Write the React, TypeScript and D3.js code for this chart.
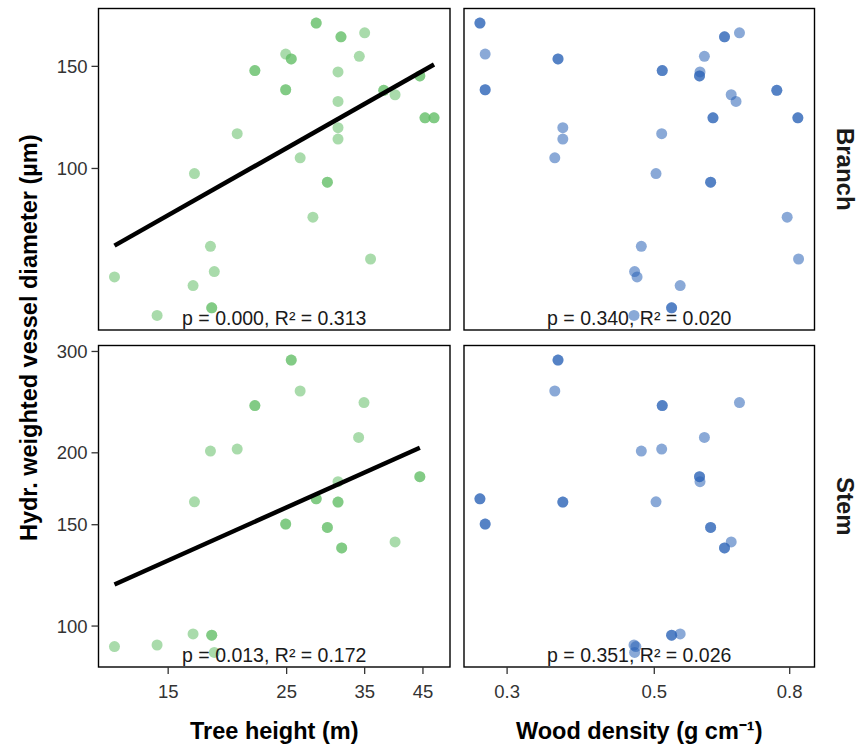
import React from "react";
import * as d3 from "d3";

// ---- data ----
const branchHeight = [28.4, 31.6, 35.0, 24.9, 25.5, 34.2, 21.8, 31.2, 44.4, 24.9, 38.0, 39.9, 31.2, 45.4, 47.2, 20.2, 31.2, 31.2, 26.5, 16.8, 29.8, 28.0, 18.0, 35.9, 11.9, 18.3, 16.7, 18.1, 14.3];
const branchDensity = [0.273, 0.638, 0.672, 0.278, 0.358, 0.595, 0.514, 0.586, 0.585, 0.278, 0.765, 0.653, 0.664, 0.613, 0.823, 0.513, 0.364, 0.364, 0.354, 0.503, 0.608, 0.793, 0.478, 0.825, 0.471, 0.467, 0.547, 0.531, 0.466];
const branchDiameter = [178.1, 168.7, 171.4, 157.5, 154.5, 156.1, 147.5, 146.7, 144.4, 136.7, 136.4, 134.0, 130.5, 122.3, 122.3, 114.8, 117.6, 112.4, 104.3, 98.0, 94.7, 82.4, 73.4, 69.8, 65.0, 66.4, 62.8, 57.5, 55.8];
const branchCount = [2, 2, 1, 1, 2, 1, 2, 1, 2, 2, 2, 1, 1, 2, 2, 1, 1, 1, 1, 1, 2, 1, 1, 1, 1, 1, 1, 2, 1];

const stemHeight = [25.5, 26.5, 21.8, 34.9, 34.1, 18.0, 20.2, 44.4, 31.2, 16.8, 28.4, 31.2, 24.9, 29.8, 31.7, 39.9, 16.7, 18.1, 11.9, 14.3, 18.3];
const stemDensity = [0.358, 0.354, 0.514, 0.672, 0.595, 0.478, 0.513, 0.585, 0.586, 0.503, 0.273, 0.364, 0.278, 0.608, 0.638, 0.653, 0.547, 0.531, 0.469, 0.466, 0.467];
const stemDiameter = [289.8, 256.1, 241.6, 244.5, 212.7, 201.4, 203.0, 181.8, 178.2, 164.4, 166.4, 164.2, 150.4, 148.4, 136.7, 140.0, 96.9, 96.4, 92.1, 92.7, 90.0];
const stemCount = [2, 1, 2, 1, 1, 1, 1, 2, 1, 1, 2, 2, 2, 2, 2, 1, 1, 2, 1, 1, 1];

const branchFitX = [11.9, 47.2];
const branchFitY = [73.6, 151.1];
const stemFitX = [11.9, 44.4];
const stemFitY = [118.1, 204.1];

const statLabels = [
  ["p = 0.000, R\u00B2 = 0.313", "p = 0.340, R\u00B2 = 0.020"],
  ["p = 0.013, R\u00B2 = 0.172", "p = 0.351, R\u00B2 = 0.026"],
];
const rowLabels = ["Branch", "Stem"];
const heightTicks = [15, 25, 35, 45];
const densityTicks = [0.3, 0.5, 0.8];
const densityTickLabels = ["0.3", "0.5", "0.8"];
const branchTicks = [100, 150];
const stemTicks = [100, 150, 200, 300];
const xTitles = ["Tree height (m)", "Wood density (g cm\u207B\u00B9)"];
const yTitle = "Hydr. weighted vessel diameter (\u00B5m)";

// ---- layout ----
const W = 860, H = 747;
const colX: [number, number][] = [[98.5, 450], [464, 814.5]];
const rowY: [number, number][] = [[8.5, 330], [345.5, 667]];
const GREEN = "#62bd66";
const BLUE = "#2a63b6";
const FONT = "'Liberation Sans', Arial, Helvetica, sans-serif";

function logDomain(vals: number[]): [number, number] {
  const [a, b] = d3.extent(vals) as [number, number];
  const la = Math.log(a), lb = Math.log(b);
  const e = (lb - la) * 0.05;
  return [Math.exp(la - e), Math.exp(lb + e)];
}

export default function App() {
  const xH = d3.scaleLog().domain(logDomain(branchHeight.concat(stemHeight))).range(colX[0]);
  const xD = d3.scaleLog().domain(logDomain(branchDensity.concat(stemDensity))).range(colX[1]);
  const yB = d3.scaleLog().domain(logDomain(branchDiameter)).range([rowY[0][1], rowY[0][0]]);
  const yS = d3.scaleLog().domain(logDomain(stemDiameter)).range([rowY[1][1], rowY[1][0]]);

  const rows = [
    { y: yB, h: branchHeight, d: branchDensity, v: branchDiameter, n: branchCount, fx: branchFitX, fy: branchFitY, ticks: branchTicks },
    { y: yS, h: stemHeight, d: stemDensity, v: stemDiameter, n: stemCount, fx: stemFitX, fy: stemFitY, ticks: stemTicks },
  ];
  const cols = [
    { x: xH, color: GREEN, key: "h" as const },
    { x: xD, color: BLUE, key: "d" as const },
  ];

  const line = d3.line<[number, number]>();

  return (
    <svg width={W} height={H} style={{ display: "block", position: "absolute", left: 0, top: 0, background: "#fff" }} fontFamily={FONT}>
      <rect x={0} y={0} width={W} height={H} fill="#fff" />
      {rows.map((r, ri) =>
        cols.map((c, ci) => {
          const xs = c.key === "h" ? r.h : r.d;
          const pts: JSX.Element[] = [];
          xs.forEach((xv, i) => {
            for (let k = 0; k < r.n[i]; k++) {
              pts.push(
                <circle key={`${i}-${k}`} cx={c.x(xv)} cy={r.y(r.v[i])} r={5.5} fill={c.color} fillOpacity={0.55} />
              );
            }
          });
          const cx = (colX[ci][0] + colX[ci][1]) / 2;
          return (
            <g key={`${ri}-${ci}`}>
              <clipPath id={`clip-${ri}-${ci}`}>
                <rect x={colX[ci][0]} y={rowY[ri][0]} width={colX[ci][1] - colX[ci][0]} height={rowY[ri][1] - rowY[ri][0]} />
              </clipPath>
              <g clipPath={`url(#clip-${ri}-${ci})`}>
                {pts}
                {ci === 0 && (
                  <path
                    d={line(r.fx.map((xv, i) => [c.x(xv), r.y(r.fy[i])] as [number, number])) || ""}
                    stroke="#000"
                    strokeWidth={4.5}
                    fill="none"
                  />
                )}
                <text x={cx} y={rowY[ri][1] - 5} textAnchor="middle" fontSize={19.5} fill="#1a1a1a">
                  {statLabels[ri][ci]}
                </text>
              </g>
              <rect x={colX[ci][0]} y={rowY[ri][0]} width={colX[ci][1] - colX[ci][0]} height={rowY[ri][1] - rowY[ri][0]} fill="none" stroke="#000" strokeWidth={1.4} />
            </g>
          );
        })
      )}
      {/* y axes */}
      {rows.map((r, ri) => (
        <g key={`ya-${ri}`}>
          {r.ticks.map((t) => (
            <g key={t}>
              <line x1={colX[0][0] - 7} x2={colX[0][0]} y1={r.y(t)} y2={r.y(t)} stroke="#333" strokeWidth={1.3} />
              <text x={colX[0][0] - 11} y={r.y(t)} dy="0.36em" textAnchor="end" fontSize={18.5} fill="#333">{t}</text>
            </g>
          ))}
        </g>
      ))}
      {/* x axes */}
      {heightTicks.map((t) => (
        <g key={`xh-${t}`}>
          <line x1={xH(t)} x2={xH(t)} y1={rowY[1][1]} y2={rowY[1][1] + 7} stroke="#333" strokeWidth={1.3} />
          <text x={xH(t)} y={698} textAnchor="middle" fontSize={18.5} fill="#333">{t}</text>
        </g>
      ))}
      {densityTicks.map((t, i) => (
        <g key={`xd-${t}`}>
          <line x1={xD(t)} x2={xD(t)} y1={rowY[1][1]} y2={rowY[1][1] + 7} stroke="#333" strokeWidth={1.3} />
          <text x={xD(t)} y={698} textAnchor="middle" fontSize={18.5} fill="#333">{densityTickLabels[i]}</text>
        </g>
      ))}
      {/* axis titles */}
      {xTitles.map((t, i) => (
        <text key={t} x={(colX[i][0] + colX[i][1]) / 2} y={739} textAnchor="middle" fontSize={23.5} fontWeight="bold" fill="#000">{t}</text>
      ))}
      <text transform={`translate(37, ${(rowY[0][0] + rowY[1][1]) / 2}) rotate(-90)`} textAnchor="middle" fontSize={23.5} fontWeight="bold" fill="#000">{yTitle}</text>
      {/* strip labels */}
      {rowLabels.map((t, i) => (
        <text key={t} transform={`translate(837, ${(rowY[i][0] + rowY[i][1]) / 2}) rotate(90)`} textAnchor="middle" fontSize={24} fontWeight="bold" fill="#1a1a1a">{t}</text>
      ))}
    </svg>
  );
}
